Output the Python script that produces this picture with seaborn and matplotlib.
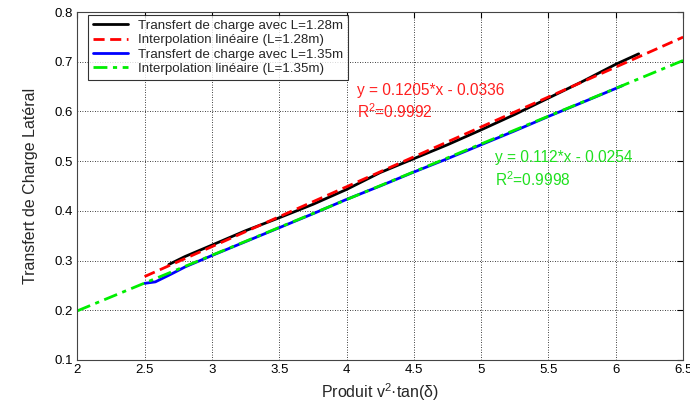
import pandas as pd
import matplotlib.pyplot as plt
import seaborn as sns

# mesures L=1.28m
x_128 = [2.68, 2.8, 3.0, 3.25, 3.5, 3.75, 4.0, 4.25, 4.5, 4.75, 5.0, 5.25, 5.5, 5.75, 6.0, 6.17]
y_128 = [0.292, 0.308, 0.331, 0.360, 0.386, 0.413, 0.443, 0.477, 0.505, 0.533, 0.563, 0.594, 0.627, 0.660, 0.695, 0.716]

# mesures L=1.35m
x_135 = [2.5, 2.58, 2.7, 2.8, 3.0, 3.25, 3.5, 3.75, 4.0, 4.25, 4.5, 4.75, 5.0, 5.25, 5.5, 5.75, 6.05]
y_135 = [0.254, 0.257, 0.273, 0.287, 0.310, 0.338, 0.366, 0.394, 0.423, 0.450, 0.478, 0.505, 0.533, 0.561, 0.590, 0.618, 0.652]

# droites d'interpolation
x_fit_128 = [2.5, 6.5]
y_fit_128 = [0.2677, 0.7496]
x_fit_135 = [2.0, 6.5]
y_fit_135 = [0.1986, 0.7026]

sns.set_style('white')
plt.rcParams['font.family'] = ['Liberation Sans', 'DejaVu Sans']
plt.rcParams['mathtext.fontset'] = 'custom'
plt.rcParams['mathtext.rm'] = 'Liberation Sans'
plt.rcParams['mathtext.it'] = 'Liberation Sans'

fig, ax = plt.subplots(figsize=(6.9, 4.03), dpi=100)

sns.lineplot(x=x_128, y=y_128, color='black', linewidth=2, label='Transfert de charge avec L=1.28m', ax=ax)
sns.lineplot(x=x_fit_128, y=y_fit_128, color='#ff0000', linewidth=2, linestyle=(0, (4, 2)),
             label='Interpolation linéaire (L=1.28m)', ax=ax)
sns.lineplot(x=x_135, y=y_135, color='#0000ff', linewidth=2, label='Transfert de charge avec L=1.35m', ax=ax)
sns.lineplot(x=x_fit_135, y=y_fit_135, color='#00ee00', linewidth=2, linestyle=(0, (5, 2, 1.5, 2)),
             label='Interpolation linéaire (L=1.35m)', ax=ax)

ax.text(4.08, 0.643, 'y = 0.1205*x - 0.0336', color='#ff2020', fontsize=11.2, va='center')
ax.text(4.08, 0.600, r'R$^\mathregular{2}$=0.9992', color='#ff2020', fontsize=11.2, va='center')
ax.text(5.1, 0.508, 'y = 0.112*x - 0.0254', color='#20e020', fontsize=11.2, va='center')
ax.text(5.1, 0.463, r'R$^\mathregular{2}$=0.9998', color='#20e020', fontsize=11.2, va='center')

ax.set_xlim(2, 6.5)
ax.set_ylim(0.1, 0.8)
ax.set_xticks([2, 2.5, 3, 3.5, 4, 4.5, 5, 5.5, 6, 6.5])
ax.set_xticklabels(['2', '2.5', '3', '3.5', '4', '4.5', '5', '5.5', '6', '6.5'])
ax.set_yticks([0.1, 0.2, 0.3, 0.4, 0.5, 0.6, 0.7, 0.8])
ax.set_yticklabels(['0.1', '0.2', '0.3', '0.4', '0.5', '0.6', '0.7', '0.8'])
ax.grid(True, color='black', linestyle=(0, (1, 2)), linewidth=0.6)
ax.tick_params(direction='in', top=True, right=True, length=4, labelsize=9.5, colors='black', pad=3)
for s in ax.spines.values():
    s.set_color('#444444')
    s.set_linewidth(0.8)

ax.set_xlabel(r'Produit v$^\mathregular{2}$·tan(δ)', fontsize=11.5)
ax.set_ylabel('Transfert de Charge Latéral', fontsize=11.5, labelpad=12)

leg = ax.legend(loc='upper left', bbox_to_anchor=(0.018, 0.992), fontsize=9.6, frameon=True, fancybox=False,
                edgecolor='black', handlelength=2.6, borderpad=0.35, labelspacing=0.15, borderaxespad=0)
leg.get_frame().set_linewidth(0.8)

plt.subplots_adjust(left=0.112, right=0.99, top=0.97, bottom=0.107)
plt.savefig('out.png', dpi=100)
